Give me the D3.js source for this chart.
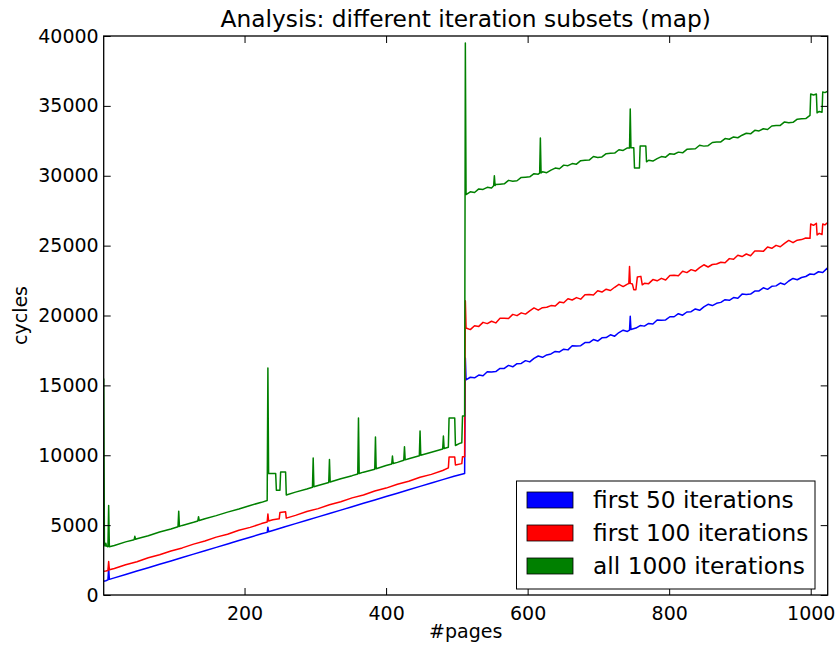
<!DOCTYPE html>
<html><head><meta charset="utf-8">
<script src="https://cdn.jsdelivr.net/npm/d3@7"></script>
<style>
body{margin:0;background:#fff}
text{font-family:"DejaVu Sans","Bitstream Vera Sans",sans-serif;fill:#000}
</style>
</head><body>
<svg id="chart" width="839" height="645"></svg>
<script>
const chartTitle = "Analysis: different iteration subsets (map)";
const xLabel = "#pages";
const yLabel = "cycles";
const xTicks = [200, 400, 600, 800, 1000];
const yTicks = [0, 5000, 10000, 15000, 20000, 25000, 30000, 35000, 40000];
const seriesNames = ["first 50 iterations", "first 100 iterations", "all 1000 iterations"];
const seriesColors = ["#0000ff", "#ff0000", "#008000"];

// [page, cycles]
const blueData = [[1,980],[4,1020],[7,1080],[8,1950],[9,1120],[16,1227],[32,1470],[48,1712],[64,1954],[80,2197],[96,2439],[112,2682],[128,2924],[144,3166],[160,3409],[176,3651],[192,3894],[208,4136],[224,4378],[232,4480],[233,4850],[234,4520],[240,4621],[256,4863],[272,5106],[288,5348],[304,5590],[320,5833],[336,6075],[352,6318],[368,6560],[384,6802],[400,7045],[416,7287],[432,7530],[448,7772],[464,8014],[480,8257],[496,8499],[511,8700],
[512,16950],[513,15400],[519,15580],[525,15545],[531,15740],[537,15690],[543,15980],[549,15960],[555,15990],[561,16210],[567,16210],[573,16430],[579,16330],[585,16550],[591,16570],[597,16770],[603,16680],[609,16930],[615,17100],[621,17010],[627,17180],[633,17250],[639,17430],[645,17390],[651,17590],[657,17540],[663,17830],[669,17810],[675,17840],[681,18060],[687,18060],[693,18280],[699,18170],[705,18400],[711,18420],[717,18620],[723,18520],[729,18780],[735,18950],[741,18860],[744,18960],[745,19950],[746,18990],[747,19020],[753,19100],[759,19280],[765,19240],[771,19430],[777,19390],[783,19680],[789,19660],[795,19680],[801,19910],[807,19910],[813,20130],[819,20020],[825,20250],[831,20270],[837,20470],[843,20370],[849,20620],[855,20800],[861,20710],[867,20870],[873,20940],[879,21130],[885,21090],[891,21280],[897,21230],[903,21530],[909,21510],[915,21530],[921,21750],[927,21760],[933,21980],[939,21870],[945,22090],[951,22120],[957,22320],[963,22220],[969,22470],[975,22650],[981,22560],[987,22720],[993,22790],[999,22970],[1005,22940],[1011,23130],[1017,23080],[1023,23370],[1024,23280]];

const redData = [[1,1700],[4,1720],[7,1750],[8,2400],[9,1800],[16,1900],[32,2160],[48,2380],[64,2660],[80,2880],[96,3150],[112,3370],[128,3640],[144,3860],[160,4140],[176,4350],[192,4630],[208,4840],[224,5110],[232,5220],[233,5800],[234,5300],[240,5380],[249,5450],[250,5900],[258,5950],[259,5500],[272,5700],[288,5970],[304,6180],[320,6460],[336,6670],[352,6950],[368,7160],[384,7440],[400,7650],[416,7930],[432,8140],[448,8420],[464,8630],[480,8910],[488,9100],[489,9870],[497,9870],[498,9300],[507,9400],[508,9900],[511,9900],
[512,21050],[513,19100],[519,18990],[525,19270],[531,19220],[537,19510],[543,19420],[549,19590],[555,19470],[561,19800],[567,19800],[573,19780],[579,20080],[585,19990],[591,20190],[597,20100],[603,20330],[609,20540],[615,20380],[621,20560],[627,20590],[633,20710],[639,20680],[645,20960],[651,20910],[657,21200],[663,21110],[669,21280],[675,21170],[681,21490],[687,21500],[693,21470],[699,21770],[705,21680],[711,21880],[717,21790],[723,22020],[729,22230],[735,22070],[741,22250],[743,22280],[744,23500],[745,22300],[748,22250],[750,21850],[753,21850],[755,22750],[760,22800],[762,22200],[765,22300],[771,22280],[777,22570],[783,22480],[789,22660],[795,22540],[801,22870],[807,22880],[813,22850],[819,23160],[825,23070],[831,23280],[837,23180],[843,23420],[849,23630],[855,23470],[861,23650],[867,23690],[873,23810],[879,23780],[885,24070],[891,24020],[897,24310],[903,24220],[909,24400],[915,24280],[921,24610],[927,24620],[933,24590],[939,24900],[945,24810],[951,25020],[957,24920],[963,25160],[969,25370],[975,25210],[981,25390],[987,25430],[993,25550],[999,25520],[1000,26550],[1004,26450],[1008,26600],[1009,25760],[1012,25880],[1016,25800],[1017,26550],[1020,26480],[1024,26650]];

const greenData = [[1,15500],[2,3600],[3,3500],[4,3700],[5,3500],[7,3450],[8,6400],[9,3450],[16,3540],[32,3800],[44,3960],[45,4200],[46,3990],[48,4030],[64,4240],[80,4510],[96,4720],[106,4880],[107,6000],[108,4910],[112,4980],[128,5200],[134,5300],[135,5600],[136,5330],[144,5460],[160,5680],[176,5930],[192,6150],[208,6410],[224,6630],[232,6760],[233,16240],[234,8700],[244,8700],[245,7500],[250,7500],[251,8800],[258,8800],[259,7150],[272,7360],[288,7580],[296,7710],[297,9800],[298,7740],[304,7840],[319,8050],[320,9700],[321,8080],[336,8320],[352,8540],[360,8660],[361,12670],[362,8690],[368,8790],[384,9000],[385,11300],[386,9040],[400,9270],[408,9380],[409,9950],[410,9410],[416,9490],[425,9640],[426,10600],[427,9670],[432,9750],[447,9960],[448,11740],[449,10000],[464,10220],[480,10450],[481,11380],[482,10480],[488,10570],[489,12660],[497,12660],[498,10700],[504,10850],[507,10900],[508,12800],[511,12800],
[512,39500],[513,28650],[519,28850],[525,28800],[531,29060],[537,29020],[543,29170],[549,29120],[552,29280],[553,30000],[554,29300],[555,29380],[561,29400],[567,29420],[573,29670],[579,29610],[585,29640],[591,29880],[597,29900],[603,29920],[609,30150],[615,30110],[617,30180],[618,32700],[619,30200],[621,30280],[627,30220],[633,30400],[639,30550],[645,30500],[651,30760],[657,30720],[663,30870],[669,30830],[675,31080],[681,31110],[687,31120],[693,31380],[699,31310],[705,31350],[711,31580],[717,31610],[723,31620],[729,31860],[735,31810],[741,31990],[744,31980],[745,34780],[746,32000],[750,32000],[751,30560],[758,30560],[759,32130],[767,32130],[768,31000],[771,31110],[777,31050],[783,31230],[789,31370],[795,31330],[801,31580],[807,31540],[813,31690],[819,31640],[825,31890],[831,31920],[837,31930],[843,32180],[849,32120],[855,32150],[861,32380],[867,32410],[873,32420],[879,32660],[885,32610],[891,32780],[897,32720],[903,32900],[909,33040],[915,33000],[921,33250],[927,33210],[933,33360],[939,33310],[945,33560],[951,33590],[957,33600],[963,33850],[969,33790],[975,33820],[981,34050],[987,34080],[993,34090],[999,34320],[1000,35850],[1004,35780],[1008,35850],[1009,34500],[1012,34600],[1016,34550],[1017,36000],[1020,35950],[1024,36050]];

const allSeries = [blueData, redData, greenData];

const svg = d3.select("#chart");
const L = 103.7, R = 827.7, T = 36, B = 595;
const x = d3.scaleLinear().domain([1, 1024]).range([L, R]);
const y = d3.scaleLinear().domain([0, 40000]).range([B, T]);

svg.append("clipPath").attr("id", "clip").append("rect")
  .attr("x", L).attr("y", T).attr("width", R - L).attr("height", B - T);

const line = d3.line().x(d => x(d[0])).y(d => y(d[1]));
const plot = svg.append("g").attr("clip-path", "url(#clip)");
allSeries.forEach((s, i) => {
  plot.append("path").datum(s)
    .attr("d", line).attr("fill", "none")
    .attr("stroke", seriesColors[i]).attr("stroke-width", 1.5)
    .attr("stroke-linejoin", "round");
});

function styleAxis(g) {
  g.select(".domain").remove();
  g.selectAll(".tick line").attr("stroke", "#000").attr("stroke-width", 1);
  g.selectAll(".tick text").style("font-size", "19px").style("font-family", "DejaVu Sans");
}
svg.append("g").attr("transform", `translate(0,${B})`)
  .call(d3.axisBottom(x).tickValues(xTicks).tickSize(-7).tickPadding(11.5).tickFormat(d3.format("d")))
  .call(styleAxis);
svg.append("g").attr("transform", `translate(0,${T})`)
  .call(d3.axisTop(x).tickValues(xTicks).tickSize(-7).tickFormat(""))
  .call(styleAxis);
svg.append("g").attr("transform", `translate(${L},0)`)
  .call(d3.axisLeft(y).tickValues(yTicks).tickSize(-7).tickPadding(5).tickFormat(d3.format("d")))
  .call(styleAxis);
svg.append("g").attr("transform", `translate(${R},0)`)
  .call(d3.axisRight(y).tickValues(yTicks).tickSize(-7).tickFormat(""))
  .call(styleAxis);

svg.append("rect").attr("x", L).attr("y", T).attr("width", R - L).attr("height", B - T)
  .attr("fill", "none").attr("stroke", "#000").attr("stroke-width", 1.3);

svg.append("text").attr("x", (L + R) / 2).attr("y", 27).attr("text-anchor", "middle")
  .style("font-size", "23.3px").text(chartTitle);
svg.append("text").attr("x", (L + R) / 2).attr("y", 638).attr("text-anchor", "middle")
  .style("font-size", "19px").text(xLabel);
svg.append("text").attr("transform", `translate(27,${(T + B) / 2}) rotate(-90)`)
  .attr("text-anchor", "middle").style("font-size", "19px").text(yLabel);

// legend
const lg = svg.append("g");
lg.append("rect").attr("x", 516.5).attr("y", 481).attr("width", 298.5).attr("height", 108)
  .attr("fill", "#fff").attr("stroke", "#000").attr("stroke-width", 1);
seriesNames.forEach((n, i) => {
  const yy = 492 + i * 33;
  lg.append("rect").attr("x", 527).attr("y", yy).attr("width", 46).attr("height", 16)
    .attr("fill", seriesColors[i]).attr("stroke", "#000").attr("stroke-width", 0.8);
  lg.append("text").attr("x", 593).attr("y", yy + 16).style("font-size", "23.3px").text(n);
});
</script>
</body></html>
